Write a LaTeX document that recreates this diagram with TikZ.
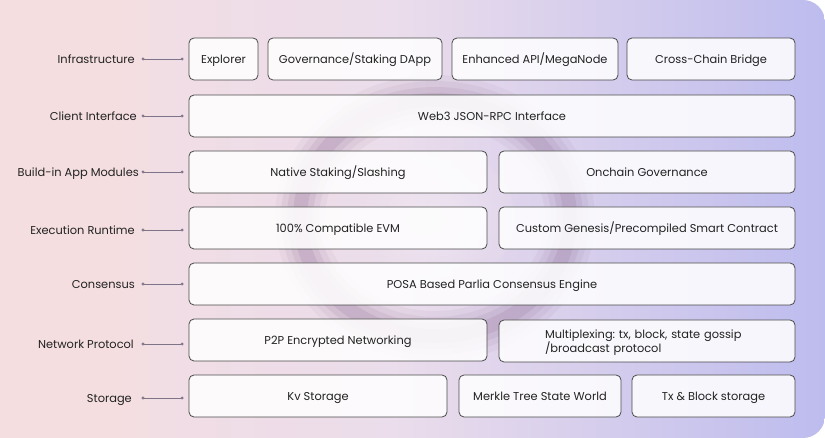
\documentclass[tikz,border=0pt]{standalone}
\usepackage{fontspec}
\setmainfont{Poppins}
\usetikzlibrary{arrows.meta}
\frenchspacing
\definecolor{txt}{HTML}{222222}
\definecolor{edge}{HTML}{4A4A4A}
\definecolor{conn}{HTML}{7E7488}
\definecolor{bgpink}{HTML}{F6DEDF}
\definecolor{bglav}{HTML}{BDBCEE}
\definecolor{bgmid}{HTML}{EBDDEB}
\definecolor{ring}{HTML}{8E6C94}
\tikzset{
  x=1pt, y=-1pt,
  layerbox/.style={draw=edge, line width=0.8pt, rounded corners=5pt, fill=white, fill opacity=0.86, text opacity=1, text=txt, inner sep=0pt, font=\fontsize{11.4}{14}\selectfont, text height=9.6pt, text depth=0pt},
  lbl/.style={anchor=east, text=txt, inner sep=0pt, font=\fontsize{11.4}{14}\selectfont, text height=9.6pt, text depth=0pt},
  conn/.style={draw=conn, line width=0.5pt, {Circle[length=2.8pt]}-{Circle[length=2.8pt]}}
}
\newcommand{\bx}[6]{% name, x1, y1, x2, y2, text
  \node[layerbox, minimum width=#4-#2, minimum height=#5-#3] (#1) at ({(#2+#4)/2},{(#3+#5)/2}) {#6};}
\begin{document}
\begin{tikzpicture}
\useasboundingbox (0,0) rectangle (825,438);
\fill[white] (0,0) rectangle (825,438);
\begin{scope}
\clip[rounded corners=22pt] (-40,0) rectangle (825,438);
\shade[left color=bgpink, right color=bglav, middle color=bgmid] (-40,0) rectangle (825,438);
\fill[bgpink, opacity=0.5] (-40,0) rectangle (150,438);
% blurred ring
\foreach \w/\o in {50/0.07,38/0.09,26/0.12,14/0.16}{
  \draw[ring, line width=\w pt, opacity=\o] (435,218) ellipse (135 and 118);
}
\shade[inner color=white, outer color=bgmid, opacity=0.3] (435,218) ellipse (80 and 70);
\end{scope}

% row 1
\bx{exp}{189}{38}{258}{80}{Explorer}
\bx{gov}{268}{38}{442}{80}{Governance/Staking DApp}
\bx{api}{452}{38}{618}{80}{Enhanced API/MegaNode}
\bx{ccb}{627}{38}{795}{80}{Cross-Chain Bridge}
% row 2
\bx{rpc}{189}{95}{795}{137}{Web3 JSON-RPC Interface}
% row 3
\bx{stk}{189}{151}{487}{193}{Native Staking/Slashing}
\bx{ogv}{499}{151}{795}{193}{Onchain Governance}
% row 4
\bx{evm}{189}{207}{487}{249}{100\% Compatible EVM}
\bx{gen}{499}{207}{795}{249}{Custom Genesis/Precompiled Smart Contract}
% row 5
\bx{pos}{189}{263}{795}{305}{POSA Based Parlia Consensus Engine}
% row 6
\bx{p2p}{189}{319}{487}{361}{P2P Encrypted Networking}
\node[layerbox, minimum height=42, align=left, text width=204pt, inner xsep=46pt, text height=, text depth=] (mux) at (647,341)
  {\rule{0pt}{11pt}Multiplexing: tx, block, state gossip\\/broadcast protocol};
% row 7
\bx{kv}{189}{375}{447}{417}{Kv Storage}
\bx{mkl}{459}{375}{621}{417}{Merkle Tree State World}
\bx{txb}{632}{375}{795}{417}{Tx \& Block storage}

% labels
\node[lbl] (l1) at (135,59) {Infrastructure};
\node[lbl] (l2) at (137,116) {Client Interface};
\node[lbl] (l3) at (139,172) {Build-in App Modules};
\node[lbl] (l4) at (135,230) {Execution Runtime};
\node[lbl] (l5) at (135,284) {Consensus};
\node[lbl] (l6) at (134,344) {Network Protocol};
\node[lbl] (l7) at (132,398) {Storage};

% connectors
\draw[conn] ([xshift=-47pt]exp.west |- l1.east) -- ([xshift=-5pt]exp.west |- l1.east);
\draw[conn] ([xshift=-47pt]rpc.west |- l2.east) -- ([xshift=-5pt]rpc.west |- l2.east);
\draw[conn] ([xshift=-47pt]stk.west |- l3.east) -- ([xshift=-5pt]stk.west |- l3.east);
\draw[conn] ([xshift=-47pt]evm.west |- l4.east) -- ([xshift=-5pt]evm.west |- l4.east);
\draw[conn] ([xshift=-47pt]pos.west |- l5.east) -- ([xshift=-5pt]pos.west |- l5.east);
\draw[conn] ([xshift=-47pt]p2p.west |- l6.east) -- ([xshift=-5pt]p2p.west |- l6.east);
\draw[conn] ([xshift=-47pt]kv.west |- l7.east) -- ([xshift=-5pt]kv.west |- l7.east);
\end{tikzpicture}
\end{document}
